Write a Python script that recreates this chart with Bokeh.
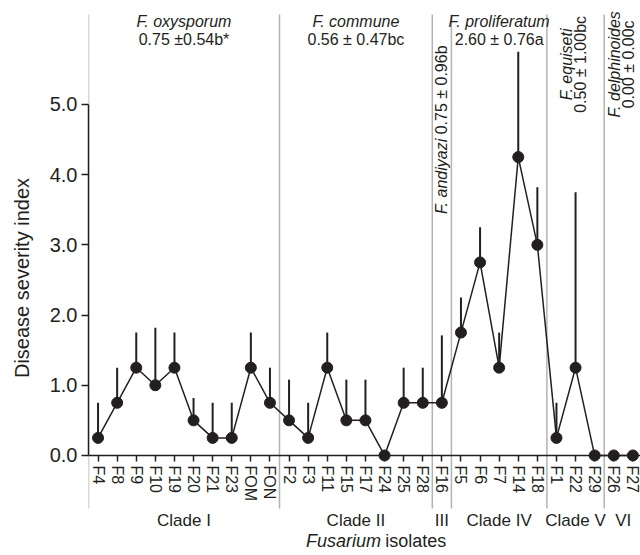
import numpy as np
from bokeh.plotting import figure
from bokeh.models import FixedTicker, LinearAxis, Range1d, PrintfTickFormatter
from bokeh.core.properties import value
from bokeh.embed import file_html
from bokeh.resources import INLINE

# ---------------- data ----------------
isolates = ["F4", "F8", "F9", "F10", "F19", "F20", "F21", "F23", "FOM", "FON",
            "F2", "F3", "F11", "F15", "F17", "F24", "F25", "F28",
            "F16",
            "F5", "F6", "F7", "F14", "F18",
            "F1", "F22", "F29",
            "F26", "F27"]
severity = [0.25, 0.75, 1.25, 1.00, 1.25, 0.50, 0.25, 0.25, 1.25, 0.75,
            0.50, 0.25, 1.25, 0.50, 0.50, 0.00, 0.75, 0.75,
            0.75,
            1.75, 2.75, 1.25, 4.25, 3.00,
            0.25, 1.25, 0.00,
            0.00, 0.00]
sd = [0.50, 0.50, 0.50, 0.82, 0.50, 0.32, 0.50, 0.50, 0.50, 0.50,
      0.58, 0.50, 0.50, 0.58, 0.58, 0.00, 0.50, 0.50,
      0.96,
      0.50, 0.50, 0.50, 1.50, 0.82,
      0.50, 2.50, 0.00,
      0.00, 0.00]
clades = ["Clade I", "Clade II", "III", "Clade IV", "Clade V", "VI"]
clade_sizes = [10, 8, 1, 5, 3, 2]
species = ["F. oxysporum", "F. commune", "F. andiyazi", "F. proliferatum",
           "F. equiseti", "F. delphinoides"]
species_stats = ["0.75 \u00b10.54b*", "0.56 \u00b1 0.47bc", "0.75 \u00b1 0.96b",
                 "2.60 \u00b1 0.76a", "0.50 \u00b1 1.00bc", "0.00 \u00b1 0.00c"]
y_ticks = [0, 1, 2, 3, 4, 5]

# ---------------- derived ----------------
xs = list(range(len(isolates)))
tops = [m + s for m, s in zip(severity, sd)]
starts = np.concatenate([[0], np.cumsum(clade_sizes)[:-1]])
bounds = [s - 0.5 for s in starts]
centers = [s + (n - 1) / 2 for s, n in zip(starts, clade_sizes)]

INK = "#231f20"
GRAY = "#b3b3b3"
FONT = value("Liberation Sans")

p = figure(width=640, height=555, output_backend="svg", toolbar_location=None,
           x_range=Range1d(-0.5, 28.4), y_range=Range1d(-1.425, 6.48),
           x_axis_location=None, y_axis_location=None,
           min_border_left=88, min_border_right=0, min_border_top=0,
           min_border_bottom=0)
p.outline_line_color = None
p.grid.visible = False
p.background_fill_color = "white"

# y axis
yax = LinearAxis(bounds=(0, 5), ticker=FixedTicker(ticks=y_ticks),
                 formatter=PrintfTickFormatter(format="%.1f"))
yax.axis_label = "Disease severity index"
yax.axis_label_text_font = "Liberation Sans"
yax.axis_label_text_font_size = "20px"
yax.axis_label_text_font_style = "normal"
yax.axis_label_text_color = INK
yax.axis_label_standoff = 14
yax.major_label_text_font = "Liberation Sans"
yax.major_label_text_font_size = "20px"
yax.major_label_text_color = INK
yax.major_label_standoff = 4
yax.major_tick_in = 0
yax.major_tick_out = 7
yax.minor_tick_in = 0
yax.minor_tick_out = 0
yax.axis_line_width = 1.5
yax.axis_line_color = INK
yax.major_tick_line_color = INK
yax.major_tick_line_width = 1.5
p.add_layout(yax, "left")

# dividers between clades
div_x = bounds
p.segment(x0=div_x, y0=[-0.755] * len(div_x), x1=div_x, y1=[6.28] * len(div_x),
          line_color=GRAY, line_width=1.5)

# x axis at y = 0
xax = LinearAxis(fixed_location=0, ticker=FixedTicker(ticks=xs),
                 major_label_overrides={i: n for i, n in enumerate(isolates)},
                 major_label_orientation="vertical")
xax.major_label_text_font = "Liberation Sans"
xax.major_label_text_font_size = "16px"
xax.major_label_text_color = INK
xax.major_label_standoff = 4
xax.major_tick_in = 0
xax.major_tick_out = 6
xax.minor_tick_in = 0
xax.minor_tick_out = 0
xax.axis_line_width = 1.5
xax.axis_line_color = INK
xax.major_tick_line_color = INK
xax.major_tick_line_width = 1.5
p.add_layout(xax, "below")

# error bars, line, points
p.segment(x0=xs, y0=severity, x1=xs, y1=tops, line_color=INK, line_width=2)
p.line(xs, severity, line_color=INK, line_width=1.5)
p.scatter(xs, severity, size=11, fill_color=INK, line_color=INK)

# clade labels
p.text(x=centers, y=[-0.926] * len(clades), text=clades, text_font=FONT,
       text_font_size="17px", text_color=INK, text_align="center",
       text_baseline="middle")

# horizontal species annotations (clades I, II, IV)
hz = [0, 1, 3]
p.text(x=[centers[i] for i in hz], y=[6.18] * len(hz), text=[species[i] for i in hz],
       text_font=FONT, text_font_style="italic", text_font_size="16px",
       text_color=INK, text_align="center", text_baseline="middle")
p.text(x=[centers[i] for i in hz], y=[5.93] * len(hz), text=[species_stats[i] for i in hz],
       text_font=FONT, text_font_size="16px", text_color=INK,
       text_align="center", text_baseline="middle")

# rotated: F. andiyazi (clade III)
p.text(x=[centers[2]], y=[4.51], text=[species[2]], angle=np.pi / 2,
       text_font=FONT, text_font_style="italic", text_font_size="16px",
       text_color=INK, text_align="right", text_baseline="middle")
p.text(x=[centers[2]], y=[5.84], text=[species_stats[2]], angle=np.pi / 2,
       text_font=FONT, text_font_size="16px", text_color=INK,
       text_align="right", text_baseline="middle")

# rotated two-line: F. equiseti, F. delphinoides
rot = [4, 5]
p.text(x=[centers[i] - 0.47 for i in rot], y=[5.57] * 2, text=[species[i] for i in rot],
       angle=np.pi / 2, text_font=FONT, text_font_style="italic",
       text_font_size="16px", text_color=INK, text_align="center",
       text_baseline="middle")
p.text(x=[centers[i] + 0.26 for i in rot], y=[5.57] * 2, text=[species_stats[i] for i in rot],
       angle=np.pi / 2, text_font=FONT, text_font_size="16px", text_color=INK,
       text_align="center", text_baseline="middle")

# x axis title
p.text(x=[14.82], y=[-1.225], text=["Fusarium"], text_font=FONT,
       text_font_style="italic", text_font_size="18px", text_color=INK,
       text_align="right", text_baseline="middle")
p.text(x=[15.03], y=[-1.225], text=["isolates"], text_font=FONT,
       text_font_size="18px", text_color=INK, text_align="left",
       text_baseline="middle")

open("out.html", "w").write(file_html(p, INLINE))
